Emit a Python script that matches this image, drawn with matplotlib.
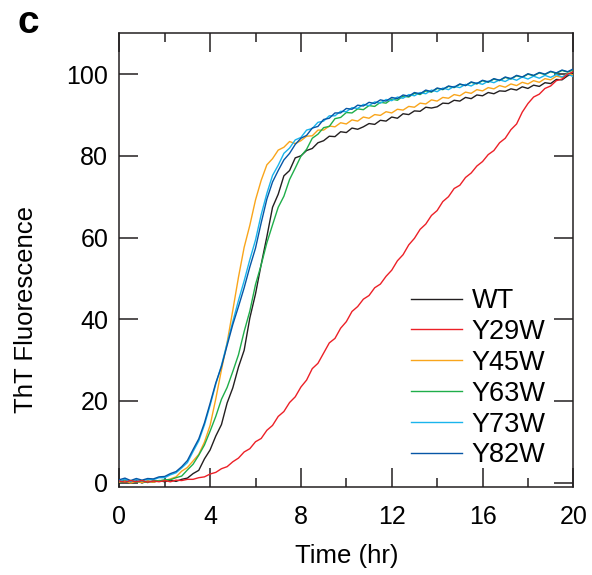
import numpy as np
import matplotlib.pyplot as plt
from matplotlib.ticker import MultipleLocator

plt.rcParams['font.family'] = ['Liberation Sans', 'DejaVu Sans']

# Time grid (hr), one sample every 15 min
time_hr = np.linspace(0, 20, 81)

# ThT fluorescence (rows = 2 hr each)
wt = [0.2, 0.6, 0.0, 0.5, -0.1, 0.4, 0.1, 0.5,
      0.2, 0.6, 0.3, 0.8, 1.1, 2.2, 3.0, 5.8,
      8.0, 11.4, 14.2, 19.5, 23.2, 28.3, 32.4, 40.3,
      46.2, 53.4, 60.2, 67.4, 70.6, 75.1, 76.4, 79.5,
      80.0, 81.3, 81.8, 83.2, 83.7, 84.8, 84.7, 85.9,
      85.7, 86.8, 86.5, 87.1, 87.9, 87.7, 88.7, 88.5,
      89.5, 89.2, 90.3, 90.1, 91.0, 90.9, 91.9, 91.7,
      92.0, 92.9, 92.8, 93.6, 93.4, 94.3, 94.0, 94.9,
      94.7, 95.5, 95.2, 95.9, 95.8, 96.4, 96.1, 96.9,
      96.5, 97.3, 97.0, 97.9, 97.7, 98.7, 98.6, 99.6,
      100.1]

y29w = [0.4, 0.1, 0.5, 0.2, 0.5, 0.1, 0.4, 0.2,
        0.5, 0.2, 0.6, 0.5, 0.8, 0.8, 1.2, 1.4,
        2.1, 2.5, 3.4, 3.9, 5.1, 6.0, 7.5, 8.3,
        10.0, 10.8, 12.8, 14.0, 16.2, 17.4, 19.6, 21.0,
        23.4, 25.1, 27.9, 29.2, 31.7, 34.2, 35.3, 37.8,
        39.4, 41.9, 43.1, 44.9, 45.8, 47.7, 48.6, 50.5,
        52.0, 54.3, 55.8, 58.2, 59.8, 62.0, 63.3, 65.4,
        66.6, 68.8, 70.0, 72.0, 72.8, 74.7, 75.8, 77.5,
        78.6, 80.3, 81.3, 83.2, 84.3, 86.4, 87.8, 90.7,
        92.8, 94.4, 95.1, 96.5, 97.1, 98.4, 98.8, 100.0,
        100.6]

y45w = [0.1, 0.4, -0.1, 0.3, 0.0, 0.4, 0.1, 0.5,
        0.5, 0.9, 1.4, 2.8, 3.7, 5.3, 6.9, 9.9,
        14.0, 20.5, 27.6, 34.3, 42.2, 50.3, 57.6, 63.0,
        69.2, 74.0, 77.8, 79.3, 81.4, 82.1, 83.5, 83.0,
        83.7, 84.8, 84.9, 86.3, 86.3, 87.3, 87.1, 88.1,
        87.8, 88.8, 88.5, 89.5, 89.2, 90.1, 89.9, 90.8,
        90.5, 91.4, 91.2, 92.1, 91.9, 92.9, 92.7, 93.7,
        93.4, 94.3, 94.1, 95.0, 94.7, 95.6, 95.3, 96.2,
        95.9, 96.7, 96.4, 97.2, 96.8, 97.6, 97.2, 98.0,
        97.6, 98.4, 98.0, 98.9, 98.6, 99.5, 99.2, 100.1,
        99.8]

y63w = [0.3, 0.0, 0.5, 0.1, 0.4, 0.0, 0.5, 0.4,
        0.7, 0.7, 1.2, 1.6, 3.1, 4.5, 6.7, 9.2,
        12.6, 16.2, 20.4, 23.3, 27.2, 31.3, 37.0, 42.0,
        48.5, 53.3, 58.7, 63.1, 67.4, 70.1, 74.2, 77.0,
        79.9, 81.6, 84.3, 85.3, 86.9, 87.2, 89.1, 89.4,
        90.6, 90.5, 91.5, 91.3, 92.3, 92.1, 93.1, 92.9,
        93.9, 93.6, 94.6, 94.4, 95.3, 95.0, 95.9, 95.6,
        96.5, 96.2, 97.0, 96.7, 97.5, 97.2, 98.0, 97.6,
        98.4, 98.0, 98.8, 98.4, 99.2, 98.8, 99.6, 99.2,
        100.0, 99.6, 100.3, 99.9, 100.6, 100.2, 100.9, 100.5,
        101.0]

y73w = [0.4, 0.8, 0.2, 0.7, 0.4, 0.8, 0.7, 1.2,
        1.2, 1.9, 2.4, 3.6, 4.9, 7.6, 10.2, 14.1,
        18.9, 24.1, 28.7, 34.1, 39.4, 44.6, 49.4, 54.6,
        59.4, 65.6, 70.8, 75.2, 77.7, 80.6, 81.9, 83.9,
        84.5, 86.3, 86.7, 88.2, 88.5, 89.8, 89.8, 90.9,
        90.8, 91.8, 91.6, 92.6, 92.3, 93.2, 92.9, 93.8,
        93.5, 94.4, 94.1, 95.0, 94.7, 95.5, 95.2, 96.1,
        95.7, 96.6, 96.2, 97.0, 96.7, 97.5, 97.1, 97.9,
        97.5, 98.3, 97.9, 98.6, 98.2, 99.0, 98.5, 99.3,
        98.8, 99.5, 99.0, 99.7, 99.2, 99.9, 99.3, 100.0,
        99.4]

y82w = [0.7, 1.1, 0.5, 1.0, 0.6, 1.0, 0.9, 1.4,
        1.5, 2.2, 2.7, 3.9, 5.4, 8.1, 10.7, 14.6,
        19.4, 24.4, 28.4, 33.6, 38.7, 43.1, 47.7, 52.8,
        57.4, 63.6, 69.4, 73.6, 76.4, 79.0, 80.6, 82.8,
        84.3, 85.0, 86.8, 87.2, 88.9, 89.2, 90.5, 90.5,
        91.6, 91.4, 92.4, 92.2, 93.1, 92.8, 93.7, 93.4,
        94.3, 94.0, 94.9, 94.6, 95.5, 95.2, 96.1, 95.7,
        96.6, 96.3, 97.1, 96.8, 97.6, 97.2, 98.1, 97.7,
        98.5, 98.1, 98.9, 98.5, 99.3, 98.9, 99.7, 99.3,
        100.1, 99.7, 100.4, 100.0, 100.7, 100.3, 101.0, 100.6,
        101.3]

labels = ['WT', 'Y29W', 'Y45W', 'Y63W', 'Y73W', 'Y82W']
series = [wt, y29w, y45w, y63w, y73w, y82w]
colors = ['#231f20', '#ec2027', '#f9a51b', '#1fae4a', '#1ab4ec', '#0656a6']
zorders = [2, 7, 3, 4, 5, 6]

fig = plt.figure(figsize=(5.92, 5.75), dpi=100)
ax = fig.add_axes([0.2015, 0.1536, 0.767, 0.7885])

handles = []
for vals, lab, col, z in zip(series, labels, colors, zorders):
    h, = ax.plot(time_hr, vals, color=col, lw=1.0, label=lab, zorder=z)
    handles.append(h)

ax.set_xlim(0, 20)
ax.set_ylim(-1, 110)
ax.xaxis.set_major_locator(MultipleLocator(4))
ax.xaxis.set_minor_locator(MultipleLocator(2))
ax.set_yticks([0, 20, 40, 60, 80, 100])

ax.tick_params(which='both', direction='in', top=True, right=True,
               width=1.1, color='#231f20', labelsize=18)
ax.tick_params(which='major', length=13.5)
ax.tick_params(which='minor', length=6.8)
ax.tick_params(axis='x', pad=13)
ax.tick_params(axis='y', pad=8)
for sp in ax.spines.values():
    sp.set_linewidth(1.1)
    sp.set_color('#231f20')

ax.set_xlabel('Time (hr)', fontsize=18.5, labelpad=11)
ax.set_ylabel('ThT Fluorescence', fontsize=18.5)
ax.yaxis.set_label_coords(-0.18, 0.39)

ax.legend(handles=handles, loc='upper left', bbox_to_anchor=(0.642, 0.438),
          frameon=False, fontsize=19.5, handlelength=1.88, handletextpad=0.37,
          labelspacing=0.18, borderpad=0, borderaxespad=0)

fig.text(0.03, 0.9426, 'c', fontsize=28, fontweight='bold', va='baseline', ha='left')

fig.savefig('out.png', dpi=100)
